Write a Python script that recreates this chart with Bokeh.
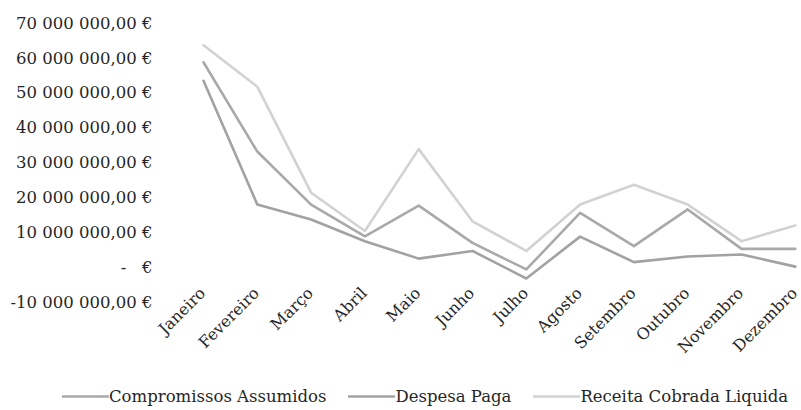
import math
from bokeh.plotting import figure
from bokeh.models import Range1d, Legend, LegendItem
from bokeh.core.properties import value
from bokeh.embed import file_html
from bokeh.resources import INLINE

months = ["Janeiro", "Fevereiro", "Março", "Abril", "Maio", "Junho",
          "Julho", "Agosto", "Setembro", "Outubro", "Novembro", "Dezembro"]

compromissos = [58.8e6, 33.2e6, 18.0e6, 8.9e6, 17.7e6, 7.0e6,
                -0.6e6, 15.6e6, 6.1e6, 16.6e6, 5.3e6, 5.3e6]
despesa = [53.5e6, 18.0e6, 13.7e6, 7.5e6, 2.5e6, 4.7e6,
           -3.2e6, 8.8e6, 1.5e6, 3.1e6, 3.7e6, 0.2e6]
receita = [63.7e6, 51.8e6, 21.4e6, 10.4e6, 33.9e6, 13.2e6,
           4.7e6, 18.0e6, 23.7e6, 18.0e6, 7.5e6, 12.0e6]

y_ticks = [-10e6, 0, 10e6, 20e6, 30e6, 40e6, 50e6, 60e6, 70e6]
y_tick_labels = ["-10 000 000,00 €", "-\u00a0\u00a0\u00a0€", "10 000 000,00 €",
                 "20 000 000,00 €", "30 000 000,00 €", "40 000 000,00 €",
                 "50 000 000,00 €", "60 000 000,00 €", "70 000 000,00 €"]

series_names = ["Compromissos Assumidos", "Despesa Paga", "Receita Cobrada Liquida"]
series_colors = ["#a9a9a9", "#a2a2a2", "#d2d2d2"]

FONT = "DejaVu Serif"
TEXT_COLOR = "#262626"

x = list(range(len(months)))

# the frame covers the whole picture; tick labels are drawn as text on the scales
x_range = Range1d(-3.773, 11.115)
y_range = Range1d(-41.05e6, 76.51e6)

p = figure(width=801, height=410, output_backend="svg", toolbar_location=None,
           x_range=x_range, y_range=y_range, min_border=0)
p.outline_line_color = None
p.background_fill_color = "white"
p.border_fill_color = "white"
p.grid.visible = False
p.axis.visible = False

renderers = []
for vals, col in zip([compromissos, despesa, receita], series_colors):
    r = p.line(x, vals, line_color=col, line_width=2.6, line_join="round", line_cap="round")
    renderers.append(r)

# value-axis labels (right-aligned left of the category area)
p.text(x=[x_range.start] * len(y_ticks), y=y_ticks, text=y_tick_labels,
       x_offset=152, text_align="right", text_baseline="middle",
       text_font=value(FONT), text_font_size="16.5px", text_color=TEXT_COLOR)

# category labels, rotated 45 degrees, hanging from the -10M level
p.text(x=x, y=[y_ticks[0]] * len(x), text=months, angle=math.pi / 4,
       x_offset=-1, y_offset=-12, text_align="right", text_baseline="middle",
       text_font=value(FONT), text_font_size="16px", text_color=TEXT_COLOR)

legend = Legend(items=[LegendItem(label=n, renderers=[r]) for n, r in zip(series_names, renderers)],
                orientation="horizontal", location=(62, 4),
                padding=0, margin=0, spacing=22, label_standoff=0,
                glyph_width=47, glyph_height=20, label_height=20,
                border_line_color=None, background_fill_alpha=0,
                label_text_font=FONT, label_text_font_size="16.5px",
                label_text_color=TEXT_COLOR)
p.add_layout(legend, "center")

open("out.html", "w").write(file_html(p, INLINE))
